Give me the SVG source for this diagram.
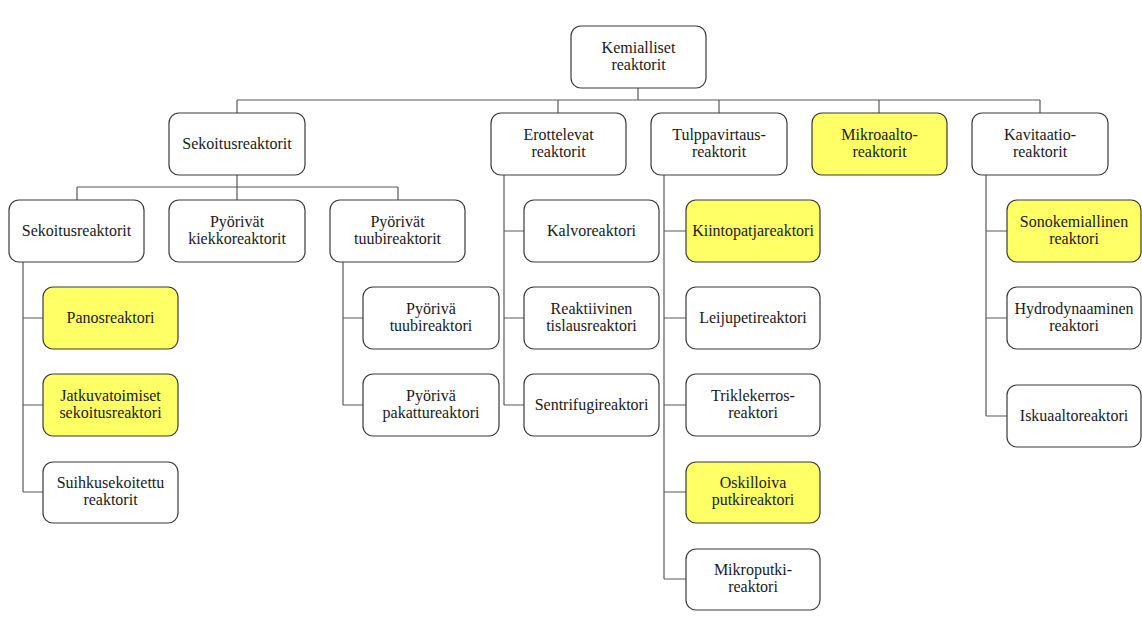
<svg xmlns="http://www.w3.org/2000/svg" width="1142" height="618" viewBox="0 0 1142 618">
<style>
.b{fill:#ffffff;stroke:#3a3a3a;stroke-width:1.2}
.y{fill:#ffff66;stroke:#3a3a3a;stroke-width:1.2}
.t{font-family:"Liberation Serif","Times New Roman",serif;font-size:16px;fill:#1a1a1a;text-anchor:middle}
.c{stroke:#595959;stroke-width:1.2;fill:none}
</style>
<rect width="1142" height="618" fill="#ffffff"/>
<g id="connectors">
<path class="c" d="M638,88V100M237,100H1040M237,100V113M558,100V113M719,100V113M879,100V113M1040,100V113"/>
<path class="c" d="M237,175V187M77,187H398M77,187V200M237,187V200M398,187V200"/>
<path class="c" d="M23,262V492M23,318H43M23,405H43M23,492H43"/>
<path class="c" d="M343,262V405M343,318H363M343,405H363"/>
<path class="c" d="M504,175V405M504,231H524M504,318H524M504,405H524"/>
<path class="c" d="M664,175V579M664,231H686M664,318H686M664,405H686M664,492H686M664,579H686"/>
<path class="c" d="M986,175V416M986,231H1007M986,318H1007M986,416H1007"/>
</g>
<g id="n_root"><rect class="b" x="571" y="26" width="135" height="62" rx="10"/><text class="t" x="638.5" y="53">Kemialliset</text><text class="t" x="638.5" y="70">reaktorit</text></g>
<g id="n_sek"><rect class="b" x="169" y="113" width="136" height="62" rx="10"/><text class="t" x="237" y="149">Sekoitusreaktorit</text></g>
<g id="n_ero"><rect class="b" x="491" y="113" width="135" height="62" rx="10"/><text class="t" x="558.5" y="140">Erottelevat</text><text class="t" x="558.5" y="157">reaktorit</text></g>
<g id="n_tul"><rect class="b" x="651" y="113" width="136" height="62" rx="10"/><text class="t" x="719" y="140">Tulppavirtaus-</text><text class="t" x="719" y="157">reaktorit</text></g>
<g id="n_mik"><rect class="y" x="812" y="113" width="135" height="62" rx="10"/><text class="t" x="879.5" y="140">Mikroaalto-</text><text class="t" x="879.5" y="157">reaktorit</text></g>
<g id="n_kav"><rect class="b" x="972" y="113" width="136" height="62" rx="10"/><text class="t" x="1040" y="140">Kavitaatio-</text><text class="t" x="1040" y="157">reaktorit</text></g>
<g id="n_sek2"><rect class="b" x="9" y="200" width="135" height="62" rx="10"/><text class="t" x="76.5" y="236">Sekoitusreaktorit</text></g>
<g id="n_kiek"><rect class="b" x="169" y="200" width="136" height="62" rx="10"/><text class="t" x="237" y="227">Pyörivät</text><text class="t" x="237" y="244">kiekkoreaktorit</text></g>
<g id="n_tuub"><rect class="b" x="330" y="200" width="135" height="62" rx="10"/><text class="t" x="397.5" y="227">Pyörivät</text><text class="t" x="397.5" y="244">tuubireaktorit</text></g>
<g id="n_kalvo"><rect class="b" x="524" y="200" width="135" height="62" rx="10"/><text class="t" x="591.5" y="236">Kalvoreaktori</text></g>
<g id="n_kiinto"><rect class="y" x="686" y="200" width="134" height="62" rx="10"/><text class="t" x="753" y="236">Kiintopatjareaktori</text></g>
<g id="n_sono"><rect class="y" x="1007" y="200" width="134" height="62" rx="10"/><text class="t" x="1074" y="227">Sonokemiallinen</text><text class="t" x="1074" y="244">reaktori</text></g>
<g id="n_panos"><rect class="y" x="43" y="287" width="135" height="62" rx="10"/><text class="t" x="110.5" y="323">Panosreaktori</text></g>
<g id="n_ptuub"><rect class="b" x="363" y="287" width="136" height="62" rx="10"/><text class="t" x="431" y="314">Pyörivä</text><text class="t" x="431" y="331">tuubireaktori</text></g>
<g id="n_reakt"><rect class="b" x="524" y="287" width="135" height="62" rx="10"/><text class="t" x="591.5" y="314">Reaktiivinen</text><text class="t" x="591.5" y="331">tislausreaktori</text></g>
<g id="n_leiju"><rect class="b" x="686" y="287" width="134" height="62" rx="10"/><text class="t" x="753" y="323">Leijupetireaktori</text></g>
<g id="n_hydro"><rect class="b" x="1007" y="287" width="134" height="62" rx="10"/><text class="t" x="1074" y="314">Hydrodynaaminen</text><text class="t" x="1074" y="331">reaktori</text></g>
<g id="n_jatk"><rect class="y" x="43" y="374" width="135" height="62" rx="10"/><text class="t" x="110.5" y="401">Jatkuvatoimiset</text><text class="t" x="110.5" y="418">sekoitusreaktori</text></g>
<g id="n_ppak"><rect class="b" x="363" y="374" width="136" height="62" rx="10"/><text class="t" x="431" y="401">Pyörivä</text><text class="t" x="431" y="418">pakattureaktori</text></g>
<g id="n_sent"><rect class="b" x="524" y="374" width="135" height="62" rx="10"/><text class="t" x="591.5" y="410">Sentrifugireaktori</text></g>
<g id="n_trik"><rect class="b" x="686" y="374" width="134" height="62" rx="10"/><text class="t" x="753" y="401">Triklekerros-</text><text class="t" x="753" y="418">reaktori</text></g>
<g id="n_isku"><rect class="b" x="1007" y="385" width="134" height="62" rx="10"/><text class="t" x="1074" y="421">Iskuaaltoreaktori</text></g>
<g id="n_suih"><rect class="b" x="43" y="462" width="135" height="61" rx="10"/><text class="t" x="110.5" y="488">Suihkusekoitettu</text><text class="t" x="110.5" y="505">reaktorit</text></g>
<g id="n_osk"><rect class="y" x="686" y="462" width="134" height="61" rx="10"/><text class="t" x="753" y="488">Oskilloiva</text><text class="t" x="753" y="505">putkireaktori</text></g>
<g id="n_mikrop"><rect class="b" x="686" y="549" width="134" height="61" rx="10"/><text class="t" x="753" y="575">Mikroputki-</text><text class="t" x="753" y="592">reaktori</text></g>
</svg>
